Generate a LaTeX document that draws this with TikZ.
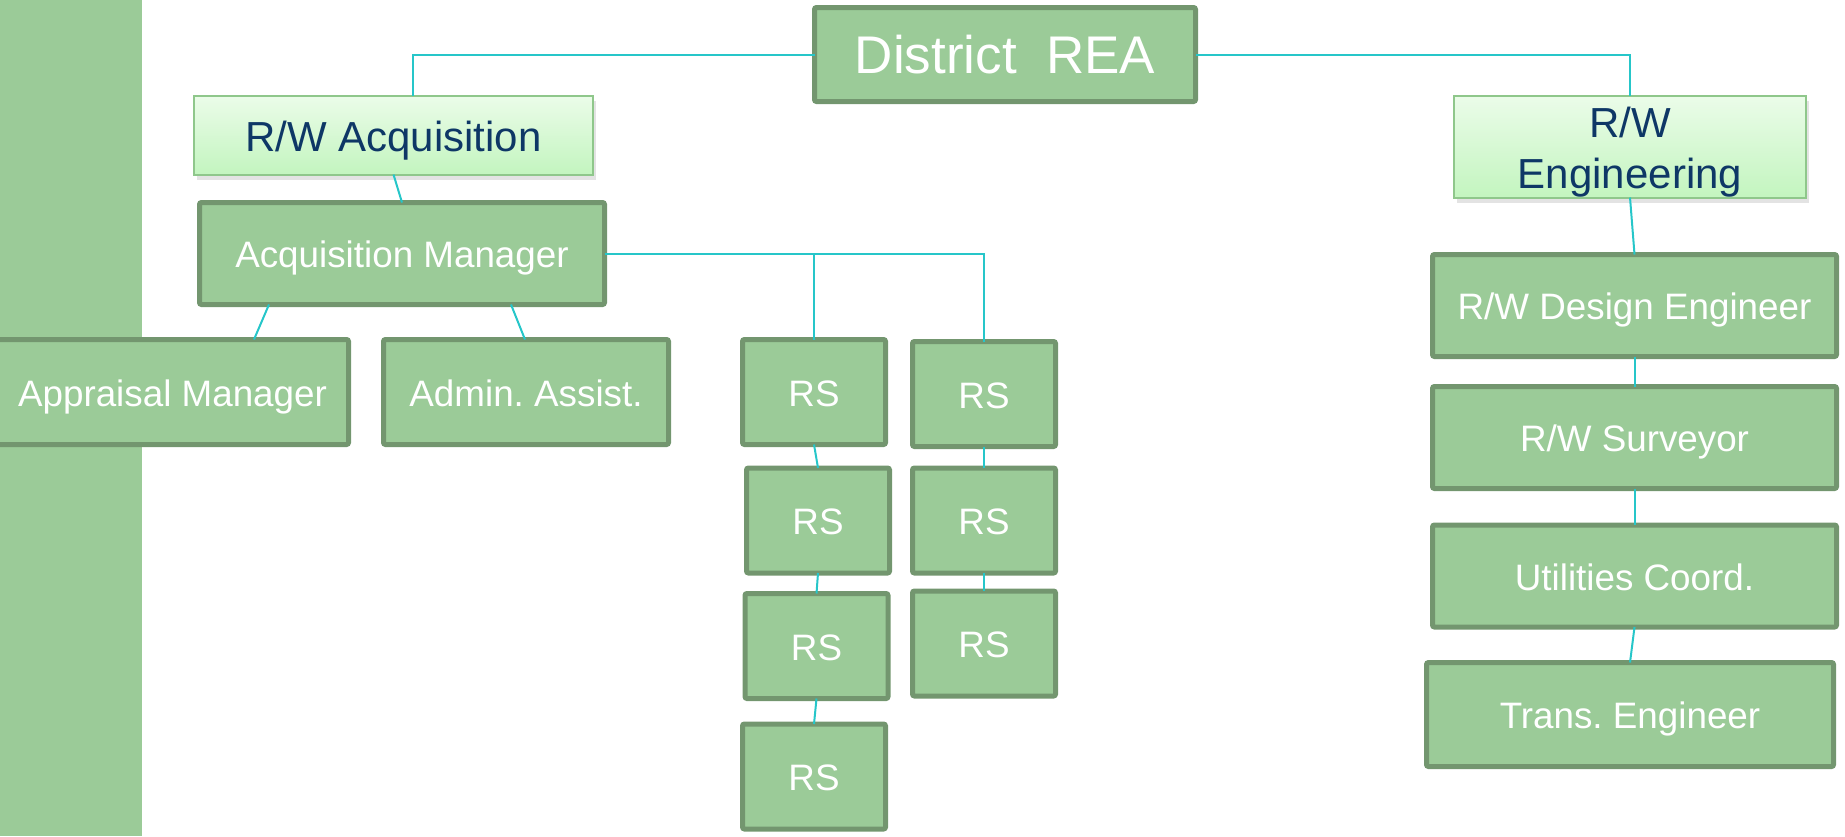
\documentclass[tikz,border=0pt]{standalone}
\usepackage{fontspec}
\setmainfont{Liberation Sans}
\frenchspacing
\usetikzlibrary{shadows,calc}
\definecolor{boxfill}{HTML}{9BCB98}
\definecolor{boxline}{HTML}{73966F}
\definecolor{lighttop}{HTML}{EBFCE9}
\definecolor{lightbot}{HTML}{C3F5BF}
\definecolor{lightline}{HTML}{8FC78B}
\definecolor{navy}{HTML}{0E3766}
\definecolor{conn}{HTML}{26C6C9}
\begin{document}
\begin{tikzpicture}[x=0.5pt,y=-0.5pt,
  dbox/.style={draw=boxline, line width=2.5pt, fill=boxfill, rounded corners=1pt,
    text=white, font=\fontsize{18.4}{22}\selectfont, inner sep=0pt, outer sep=0pt,
    text height=17.5pt, text depth=3.5pt},
  rsbox/.style={dbox, minimum width=71.5pt, minimum height=52.5pt},
  wbox/.style={dbox, minimum width=202pt, minimum height=51pt},
  lbox/.style={draw=lightline, line width=1pt, top color=lighttop, bottom color=lightbot,
    text=navy, font=\fontsize{21}{25.5}\selectfont, inner sep=0pt, outer sep=0pt,
    drop shadow={shadow xshift=1.5pt, shadow yshift=-2.5pt, opacity=0.22}},
  link/.style={draw=conn, line width=1pt}]
\useasboundingbox (0,0) rectangle (1845,836);
\fill[boxfill] (0,0) rectangle (142,836);

\node[dbox, font=\fontsize{26.5}{32}\selectfont, text height=24pt, text depth=4.6pt,
  minimum width=190.5pt, minimum height=47pt] (dist) at (1005,54.5) {District~~REA};
\node[lbox, text height=21pt, text depth=4.3pt, minimum width=199.5pt, minimum height=39.5pt]
  (acq) at (393.5,135) {R/W Acquisition};
\node[lbox, align=center, minimum width=176pt, minimum height=51pt] (eng) at (1630,146.5)
  {\rule{0pt}{20.7pt}R/W\\Engineering};
\node[dbox, minimum width=202.5pt, minimum height=51pt] (amgr) at (402,253.5) {Acquisition Manager};
\node[dbox, minimum width=176pt, minimum height=52.5pt] (appr) at (172.5,392) {Appraisal Manager};
\node[dbox, minimum width=142.5pt, minimum height=52.5pt] (admin) at (526,392) {Admin. Assist.};

\node[rsbox] (rs11) at (814,392) {RS};
\node[rsbox] (rs12) at (818,520.5) {RS};
\node[rsbox] (rs13) at (816.5,646) {RS};
\node[rsbox] (rs14) at (814,776.5) {RS};
\node[rsbox] (rs21) at (984,394) {RS};
\node[rsbox] (rs22) at (984,520.5) {RS};
\node[rsbox] (rs23) at (984,643.5) {RS};

\node[wbox] (des) at (1634.5,305.5) {R/W Design Engineer};
\node[wbox] (sur) at (1634.5,437.5) {R/W Surveyor};
\node[wbox] (uti) at (1634.5,576) {Utilities Coord.};
\node[wbox, minimum width=203.5pt, minimum height=52pt] (tra) at (1630,714.5) {Trans. Engineer};

\draw[link] (dist.west) -| ($(acq.north)+(19.5,0)$);
\draw[link] (dist.east) -| (eng.north);
\draw[link] (acq.south) -- (amgr.north);
\draw[link] (eng.south) -- (des.north);
\draw[link] (amgr.east) -| (rs11.north);
\draw[link] (amgr.east) -| (rs21.north);
\draw[link] ($(amgr.south)+(-133,0)$) -- ($(appr.north)+(81.5,0)$);
\draw[link] ($(amgr.south)+(109,0)$) -- ($(admin.north)+(-1,0)$);
\draw[link] (rs11.south) -- (rs12.north);
\draw[link] (rs12.south) -- (rs13.north);
\draw[link] (rs13.south) -- (rs14.north);
\draw[link] (rs21.south) -- (rs22.north);
\draw[link] (rs22.south) -- (rs23.north);
\draw[link] (des.south) -- (sur.north);
\draw[link] (sur.south) -- (uti.north);
\draw[link] (uti.south) -- (tra.north);
\end{tikzpicture}
\end{document}
